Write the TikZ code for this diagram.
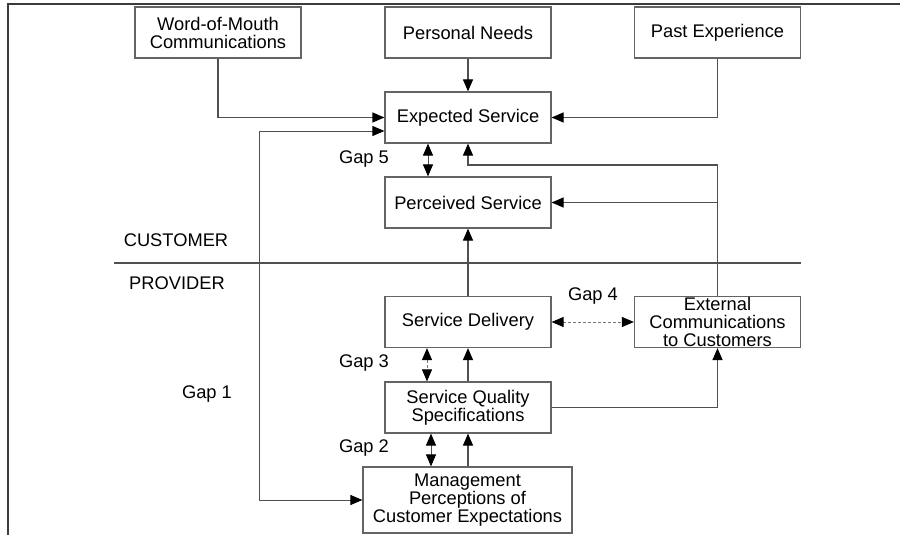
\documentclass[tikz,border=0pt]{standalone}
\usepackage{fontspec}
\setmainfont{Liberation Sans}
\usetikzlibrary{arrows.meta, positioning}
\definecolor{framegray}{RGB}{60, 60, 60}
\definecolor{boxgray}{RGB}{100, 100, 100}
\definecolor{linegray}{RGB}{80, 80, 80}
\definecolor{dashgray}{RGB}{120, 120, 120}
\tikzset{
  >=Triangle,
  txt/.style={font=\fontsize{18.3pt}{18pt}\selectfont, text=black},
  modelbox/.style={txt, draw=boxgray, line width=1.2pt, minimum width=166pt, minimum height=51pt, inner sep=0pt, align=center},
  flow/.style={-{Triangle[length=12pt, width=10pt, color=black]}, line width=1.2pt, linegray},
  gaparrow/.style={{Triangle[length=12pt, width=10pt, color=black]}-{Triangle[length=12pt, width=10pt, color=black]}, line width=0.9pt, linegray},
  gaparrow_dashed/.style={gaparrow, dashed, dash pattern=on 3pt off 2pt, dashgray},
  divider/.style={line width=1.2pt, linegray}
}

\begin{document}
\begin{tikzpicture}[x=1pt, y=-1pt]
    \useasboundingbox (0,0) rectangle (900,535);
    % frame
    \draw[line width=1.5pt, framegray] (900,4) -| (8,535);
    % customer side
    \node (wom) [modelbox] at (218,32.5) {Word-of-Mouth\\Communications};
    \node (needs) [modelbox] at (468,32.5) {Personal Needs};
    \node (past) [modelbox] at (717.5,32.5) {Past Experience};
    \node (expected) [modelbox] at (468,117.5) {Expected Service};
    \node (perceived) [modelbox] at (468,202.5) {Perceived Service};
    \node (customer) [txt] at (176,240) {CUSTOMER};
    \draw[divider] (114,263) -- (801,263);
    \node (provider) [txt] at (177,283) {PROVIDER};
    % provider side
    \node (delivery) [modelbox] at (468,322) {Service Delivery};
    \node (extcomm) [modelbox] at (717.5,322) {External\\Communications\\to Customers};
    \node (specs) [modelbox] at (468,407.5) {Service Quality\\Specifications};
    \node (mgmt) [modelbox, minimum width=209pt, minimum height=66pt] at (467.5,500) {Management\\Perceptions of\\Customer Expectations};
    % gap labels
    \node (gapfive) [txt] at (364,159) {Gap 5};
    \node (gapfour) [txt] at (593,296) {Gap 4};
    \node (gapthree) [txt] at (364,363) {Gap 3};
    \node (gaptwo) [txt] at (364,448) {Gap 2};
    \node (gapone) [txt] at (207,394) {Gap 1};
    \coordinate (gaponecorner) at (259,131);
    \coordinate (feedback) at (717.5,165);
    % connectors
    \draw[flow] (wom) |- (expected);
    \draw[flow] (past) |- (expected);
    \draw[flow] (needs) -- (expected);
    \draw[flow] (extcomm.north) -- (feedback) -| (expected.south);
    \draw[flow] (extcomm.north |- perceived) -- (perceived.east);
    \draw[flow] (delivery) -- (perceived);
    \draw[flow] (specs) -- (delivery);
    \draw[flow] (specs.east) -| (extcomm.south);
    \draw[flow] (specs.south |- mgmt.north) -- (specs.south);
    \draw[gaparrow] (mgmt.west) -| (gaponecorner) -- (gaponecorner -| expected.west);
    \draw[gaparrow] ([xshift=-40pt]expected.south) -- ([xshift=-40pt]perceived.north);
    \draw[gaparrow_dashed] (delivery.east) -- (extcomm.west);
    \draw[gaparrow_dashed] ([xshift=-41pt]delivery.south) -- ([xshift=-41pt]specs.north);
    \draw[gaparrow] ([xshift=-37pt]specs.south) -- ([xshift=-37pt]specs.south |- mgmt.north);
\end{tikzpicture}
\end{document}
